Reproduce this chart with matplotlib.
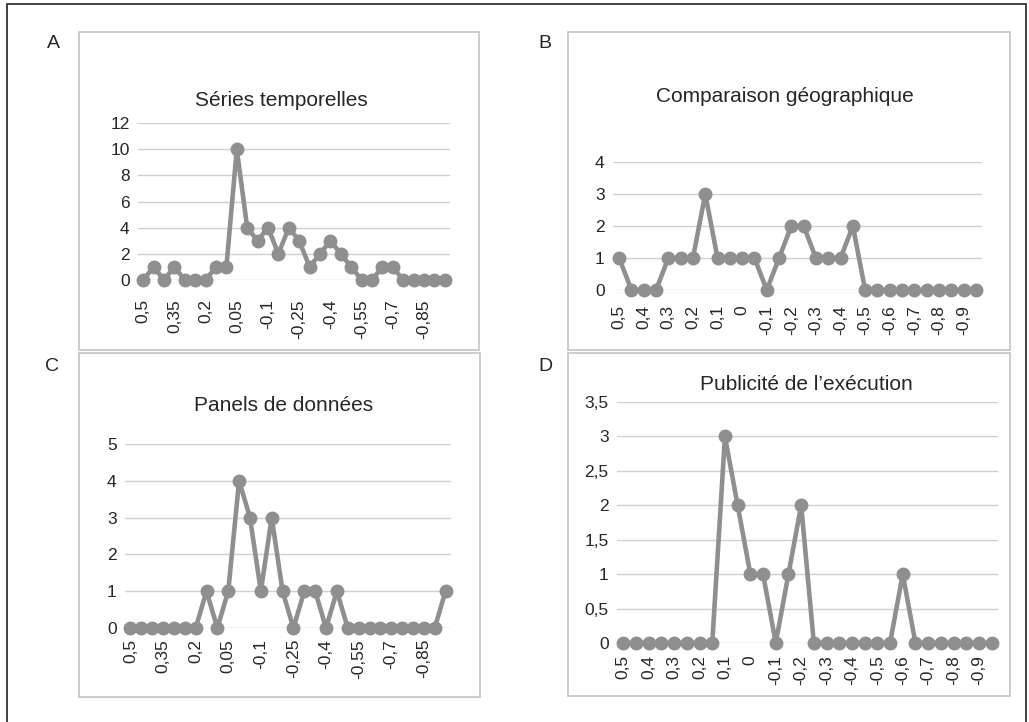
import matplotlib
matplotlib.use("Agg")
import matplotlib.pyplot as plt
from matplotlib.patches import Rectangle

plt.rcParams['font.family'] = ['Liberation Sans', 'DejaVu Sans']

# ---------------- data ----------------
labels_a = ["0,5", "0,35", "0,2", "0,05", "-0,1", "-0,25", "-0,4", "-0,55", "-0,7", "-0,85"]
labels_b = ["0,5", "0,4", "0,3", "0,2", "0,1", "0", "-0,1", "-0,2", "-0,3", "-0,4",
            "-0,5", "-0,6", "-0,7", "-0,8", "-0,9"]

series_a = [0, 1, 0, 1, 0, 0, 0, 1, 1, 10, 4, 3, 4, 2, 4, 3, 1, 2, 3, 2, 1, 0, 0, 1, 1, 0, 0, 0, 0, 0]
series_b = [1, 0, 0, 0, 1, 1, 1, 3, 1, 1, 1, 1, 0, 1, 2, 2, 1, 1, 1, 2, 0, 0, 0, 0, 0, 0, 0, 0, 0, 0]
series_c = [0, 0, 0, 0, 0, 0, 0, 1, 0, 1, 4, 3, 1, 3, 1, 0, 1, 1, 0, 1, 0, 0, 0, 0, 0, 0, 0, 0, 0, 1]
series_d = [0, 0, 0, 0, 0, 0, 0, 0, 3, 2, 1, 1, 0, 1, 2, 0, 0, 0, 0, 0, 0, 0, 1, 0, 0, 0, 0, 0, 0, 0]

titles = ["Séries temporelles", "Comparaison géographique", "Panels de données", "Publicité de l\u2019exécution"]
letters = ["A", "B", "C", "D"]
yticks_a = [0, 2, 4, 6, 8, 10, 12]
yticks_b = [0, 1, 2, 3, 4]
yticks_c = [0, 1, 2, 3, 4, 5]
yticks_d = [0, 0.5, 1, 1.5, 2, 2.5, 3, 3.5]

W, H = 1029, 722
fig = plt.figure(figsize=(W / 100, H / 100), dpi=100)

LINE = "#8f8f8f"
GRID = "#d0d0d0"
TXT = "#262626"
BOX = "#c8c8c8"

def fx(x):
    return x / W

def fy(y):
    return 1 - y / H

# outer frame
fig.patches.append(Rectangle((fx(7), fy(730)), fx(1026) - fx(7), fy(4) - fy(730),
                             transform=fig.transFigure, fill=False,
                             edgecolor="#333333", linewidth=1.3))

# chart boxes (left, top, right, bottom) in pixels
boxes = [(79, 32, 479, 350), (568, 32, 1010, 350), (79, 353, 480, 697), (568, 353, 1010, 696)]
for (l, t, r, b) in boxes:
    fig.patches.append(Rectangle((fx(l), fy(b)), fx(r) - fx(l), fy(t) - fy(b),
                                 transform=fig.transFigure, fill=False,
                                 edgecolor=BOX, linewidth=1.3))

# plot areas: (gl_left, gl_right, y_top, y_bottom)
areas = [(138, 450, 123, 280), (613, 982, 162, 290), (125, 451, 444, 628), (617, 998, 402, 643)]
series = [series_a, series_b, series_c, series_d]
yticks = [yticks_a, yticks_b, yticks_c, yticks_d]
xlabs = [labels_a, labels_b, labels_a, labels_b]
steps = [3, 2, 3, 2]
xpads = [19, 15, 11, 12]
title_pos = [(281, 100), (785, 97), (284, 406), (806, 384)]
letter_pos = [(53, 43), (545, 43), (52, 366), (545, 366)]

def fmt(v):
    s = ("%g" % v).replace(".", ",")
    return s

for i in range(4):
    gl, gr, yt, yb = areas[i]
    ax = fig.add_axes([fx(gl), fy(yb), fx(gr) - fx(gl), fy(yt) - fy(yb)])
    vals = series[i]
    xs = list(range(len(vals)))
    ax.plot(xs, vals, color=LINE, linewidth=3.3, marker="o", markersize=9,
            markerfacecolor=LINE, markeredgecolor=LINE, clip_on=False, zorder=3)
    ax.set_xlim(-0.5, len(vals) - 0.5)
    ax.set_ylim(min(yticks[i]), max(yticks[i]))
    ax.set_yticks(yticks[i])
    ax.set_yticklabels([fmt(v) for v in yticks[i]])
    ticks = xs[::steps[i]]
    ax.set_xticks(ticks)
    ax.set_xticklabels(xlabs[i][:len(ticks)], rotation=90)
    ax.grid(axis="y", color=GRID, linewidth=1.0)
    ax.set_axisbelow(True)
    for s in ax.spines.values():
        s.set_visible(False)
    ax.tick_params(axis="both", length=0, labelsize=12.5, labelcolor=TXT)
    ax.tick_params(axis="y", pad=6)
    ax.tick_params(axis="x", pad=xpads[i] * 0.72)
    ax.patch.set_alpha(0)
    tx, ty = title_pos[i]
    fig.text(fx(tx), fy(ty), titles[i], ha="center", va="center", fontsize=15, color=TXT)
    lx, ly = letter_pos[i]
    fig.text(fx(lx), fy(ly), letters[i], ha="center", va="center", fontsize=14, color=TXT)

fig.savefig("out.png", dpi=100)
